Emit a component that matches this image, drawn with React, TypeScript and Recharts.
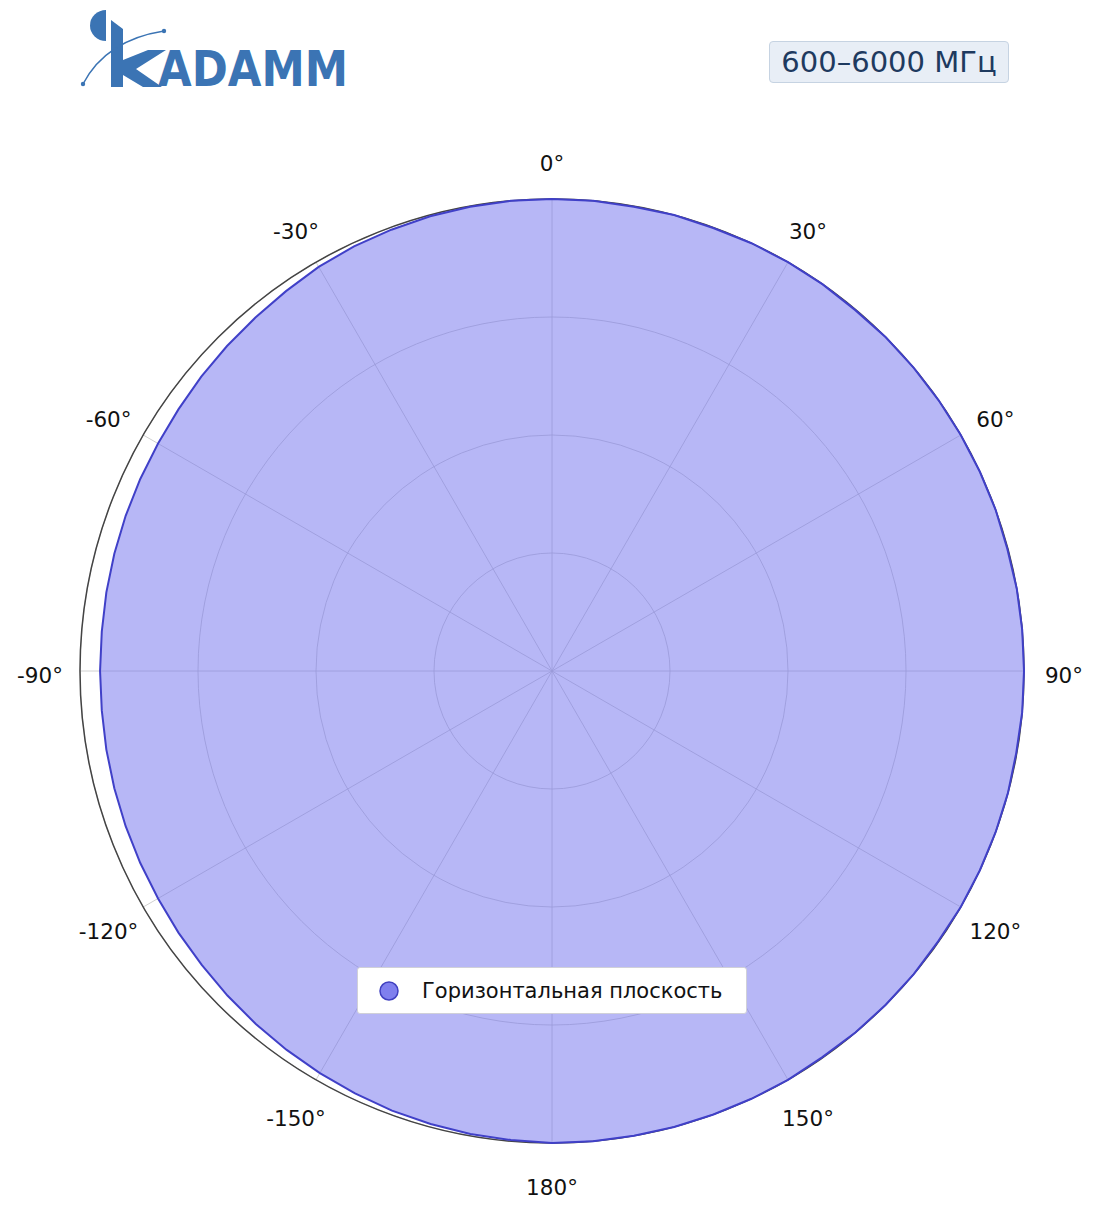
import {
  RadarChart,
  Radar,
  PolarGrid,
  PolarAngleAxis,
  PolarRadiusAxis,
  Legend,
} from "recharts";

// compass angle (deg, clockwise from top) and gain (dB, normalised)
const ANGLES = [
  0, 5, 10, 15, 20, 25, 30, 35, 40, 45, 50, 55, 60, 65, 70, 75, 80, 85,
  90, 95, 100, 105, 110, 115, 120, 125, 130, 135, 140, 145, 150, 155, 160, 165, 170, 175,
  180, 185, 190, 195, 200, 205, 210, 215, 220, 225, 230, 235, 240, 245, 250, 255, 260, 265,
  270, 275, 280, 285, 290, 295, 300, 305, 310, 315, 320, 325, 330, 335, 340, 345, 350, 355,
];
const GAIN = [
  0, 0, -0.05, 0, -0.05, 0, 0, 0, -0.05, 0, 0, 0, 0, 0, 0, -0.05, 0, 0,
  0, 0, -0.05, 0, 0, 0, 0, -0.05, 0, 0, 0, -0.05, 0, 0, 0, 0, 0, 0,
  0, -0.1, -0.15, -0.25, -0.35, -0.5, -0.65, -0.8, -0.95, -1.1, -1.25, -1.35, -1.45, -1.5, -1.55, -1.6, -1.65, -1.7,
  -1.7, -1.7, -1.65, -1.6, -1.55, -1.5, -1.45, -1.35, -1.2, -1.05, -0.9, -0.7, -0.45, -0.3, -0.2, -0.1, -0.05, 0,
];
const ANGLE_TICKS = [0, 30, 60, 90, 120, 150, 180, 210, 240, 270, 300, 330];
const RADIUS_TICKS = [-40, -30, -20, -10, 0];
const SERIES_NAME = "Горизонтальная плоскость";
const BAND = "600–6000 МГц";

const data = ANGLES.map((a, i) => ({ angle: a, gain: GAIN[i] }));

const CX = 552;
const CY = 671;
const R = 472;
const LABEL_R = 512;
const FONT = "'DejaVu Sans', sans-serif";

const fmtAngle = (v: number) => `${v > 180 ? v - 360 : v}°`;

function AngleTick(props: any) {
  const { x, y, payload } = props;
  const dx = x - CX;
  const dy = y - CY;
  const d = Math.hypot(dx, dy) || 1;
  return (
    <text
      x={CX + (dx / d) * LABEL_R}
      y={CY + (dy / d) * LABEL_R + 4}
      textAnchor="middle"
      dominantBaseline="central"
      fontSize={21.5}
      fontFamily={FONT}
      fill="#111"
    >
      {fmtAngle(payload.value)}
    </text>
  );
}

function LegendBox() {
  return (
    <div
      style={{
        width: 388,
        height: 45,
        background: "#fff",
        border: "1px solid #d0d0d8",
        borderRadius: 3,
        display: "flex",
        alignItems: "center",
        fontFamily: FONT,
        fontSize: 21,
        color: "#111",
        boxSizing: "content-box",
      }}
    >
      <svg width={64} height={24}>
        <circle cx={31} cy={12} r={9} fill="#8080ee" stroke="#4040c0" strokeWidth={1.5} />
      </svg>
      <span>{SERIES_NAME}</span>
    </div>
  );
}

function Logo() {
  const blue = "#3b74b4";
  return (
    <svg width={400} height={100} style={{ position: "absolute", left: 0, top: 0 }}>
      <path d="M106,10 A16,15.5 0 0 0 106,41 Z" fill={blue} />
      <path
        d="M111,20 L123,29 L123,60 L148,50 L166,50 L136,69 L162,87 L143,87 L123,75 L123,87 L111,87 Z"
        fill={blue}
      />
      <path d="M83,84 Q106,40 164,31" fill="none" stroke={blue} strokeWidth={1.5} />
      <circle cx={83} cy={84} r={2.2} fill={blue} />
      <circle cx={164} cy={31} r={2.2} fill={blue} />
      <text
        x={158}
        y={86}
        fontFamily={FONT}
        fontWeight="bold"
        fontSize={49}
        textLength={190}
        lengthAdjust="spacingAndGlyphs"
        fill={blue}
      >
        ADAMM
      </text>
    </svg>
  );
}

export default function App() {
  return (
    <div style={{ position: "absolute", left: 0, top: 0, width: 1104, height: 1211, background: "#fff" }}>
      <Logo />
      <div
        style={{
          position: "absolute",
          left: 769,
          top: 41,
          width: 238,
          height: 40,
          background: "#e8eef6",
          border: "1px solid #c6d3e2",
          borderRadius: 4,
          display: "flex",
          alignItems: "center",
          justifyContent: "center",
          fontFamily: FONT,
          fontSize: 29,
          color: "#1e3a5f",
        }}
      >
        {BAND}
      </div>
      <RadarChart
        width={1104}
        height={1211}
        data={data}
        cx={CX}
        cy={CY}
        outerRadius={R}
        margin={{ top: 0, right: 0, bottom: 0, left: 0 }}
        style={{ position: "absolute", left: 0, top: 0 }}
      >
        <PolarGrid gridType="circle" stroke="#c4c4c4" strokeWidth={0.8} />
        {/* dark outer ring, kept beneath the pattern */}
        <PolarGrid gridType="circle" polarRadius={[R]} polarAngles={[]} stroke="#444" strokeWidth={1.5} />
        <PolarRadiusAxis
          angle={90}
          type="number"
          domain={[-40, 0]}
          ticks={RADIUS_TICKS}
          tick={false}
          axisLine={false}
        />
        <PolarAngleAxis
          dataKey="angle"
          type="number"
          domain={[0, 360]}
          ticks={ANGLE_TICKS}
          tick={<AngleTick />}
          tickLine={false}
          axisLine={false}
        />
        <Radar
          name={SERIES_NAME}
          dataKey="gain"
          stroke="#4040c8"
          strokeWidth={2}
          fill="#7070ee"
          fillOpacity={0.5}
          isAnimationActive={false}
        />
        <Legend
          content={<LegendBox />}
          wrapperStyle={{ position: "absolute", left: 357, top: 967, width: 390, height: 47, bottom: "auto" }}
        />
      </RadarChart>
    </div>
  );
}
